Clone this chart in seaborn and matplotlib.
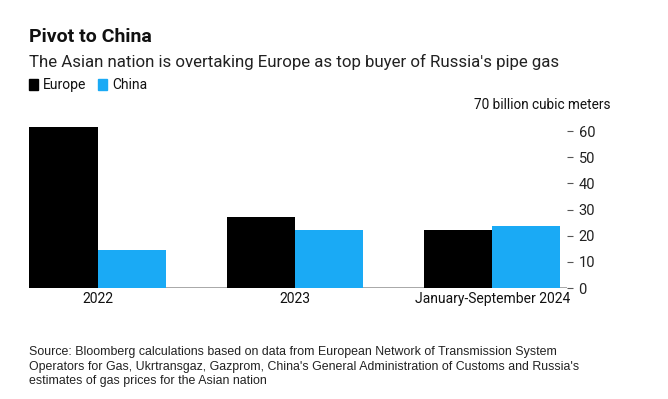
import pandas as pd
import matplotlib.pyplot as plt
import seaborn as sns
from matplotlib.patches import Rectangle

# data (billion cubic meters)
periods = ['2022', '2023', 'January-September 2024']
europe = [61.5, 27.1, 22.2]
china = [14.5, 22.2, 23.7]
y_ticks = [0, 10, 20, 30, 40, 50, 60]

df = pd.DataFrame({
    'Period': periods * 2,
    'Region': ['Europe'] * 3 + ['China'] * 3,
    'Value': europe + china,
})

sns.set_style('white')
plt.rcParams['font.family'] = ['Roboto', 'DejaVu Sans']

colors = {'Europe': '#000000', 'China': '#1aaaf5'}

fig = plt.figure(figsize=(6.68, 3.99), dpi=100)
ax = fig.add_axes([0.0434, 0.278, 0.806, 0.459])

sns.barplot(data=df, x='Period', y='Value', hue='Region', palette=colors,
            width=0.69, gap=0, saturation=1, linewidth=0, ax=ax, legend=False)

ax.set_ylim(0, 70)
ax.set_xlim(-0.347, 2.38)
ax.yaxis.tick_right()
ax.set_yticks(y_ticks)
ax.tick_params(axis='y', length=4, width=0.8, color='#555555', pad=4,
               labelsize=10.5, labelcolor='#222222')
ax.tick_params(axis='x', length=0, pad=3, labelsize=10, labelcolor='#111111')
ax.set_xlabel('')
ax.set_ylabel('')
for s in ax.spines.values():
    s.set_visible(False)
ax.axhline(0, color='#999999', lw=1.2, zorder=0)

# titles
fig.text(0.0434, 0.907, 'Pivot to China', fontsize=14, fontweight='bold',
         color='#111111', va='center')
fig.text(0.0434, 0.845, "The Asian nation is overtaking Europe as top buyer of Russia's pipe gas",
         fontsize=12.2, color='#222222', va='center')

# legend
for lab, x0 in [('Europe', 0.0434), ('China', 0.147)]:
    fig.patches.append(Rectangle((x0, 0.775), 0.0135, 0.026, transform=fig.transFigure,
                                 color=colors[lab]))
    fig.text(x0 + 0.021, 0.787, lab, fontsize=10, color='#111111', va='center')

fig.text(0.914, 0.738, '70 billion cubic meters', fontsize=9.8, color='#111111',
         ha='right', va='center')

source = ("Source: Bloomberg calculations based on data from European Network of Transmission System\n"
          "Operators for Gas, Ukrtransgaz, Gazprom, China's General Administration of Customs and Russia's\n"
          "estimates of gas prices for the Asian nation")
fig.text(0.0434, 0.133, source, fontsize=8.9, color='#222222', va='top',
         family='Liberation Sans', linespacing=1.3)

fig.savefig('out.png', dpi=100, facecolor='white')
